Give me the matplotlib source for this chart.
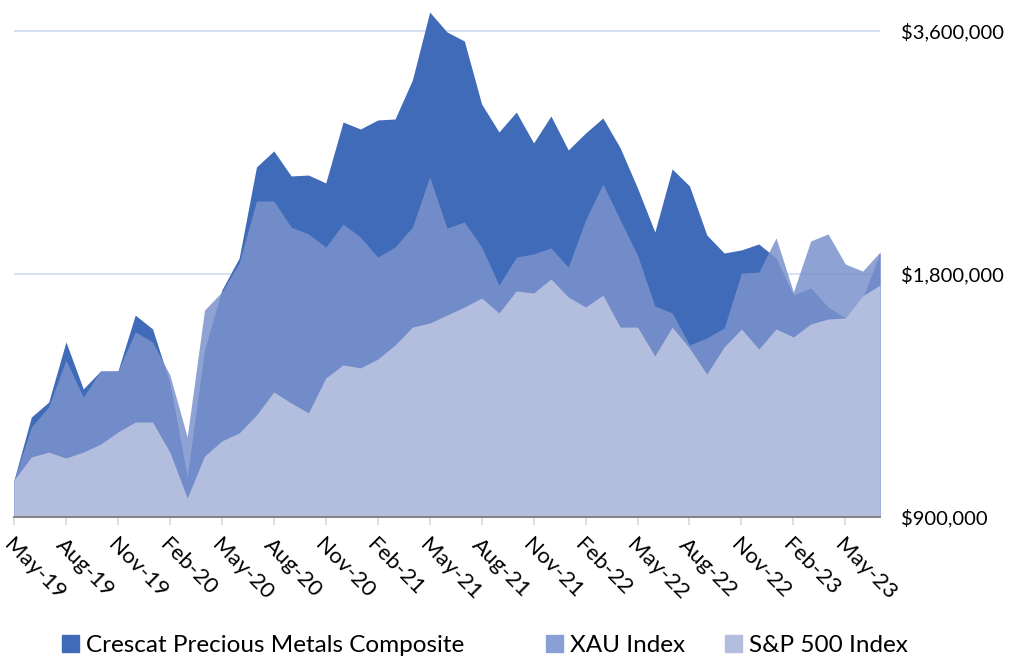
import numpy as np
import pandas as pd
import matplotlib
matplotlib.use("Agg")
import matplotlib.pyplot as plt
from matplotlib.patches import Patch
from matplotlib.ticker import FixedLocator, FuncFormatter

# monthly values, May-19 .. Jul-23 (growth of $1,000,000)
months = pd.date_range("2019-05-01", "2023-07-01", freq="MS")

crescat = [1000, 1197, 1249, 1483, 1297, 1365, 1365, 1601, 1539, 1319,
           1009, 1449, 1720, 1884, 2443, 2557, 2381, 2387, 2334, 2777,
           2722, 2793, 2801, 3130, 3800, 3590, 3499, 2923, 2699, 2857,
           2616, 2825, 2564, 2691, 2809, 2579, 2300, 2029, 2429, 2314,
           2012, 1911, 1928, 1961, 1884, 1695, 1730, 1638, 1588, 1681,
           1911]
xau = [1000, 1163, 1232, 1408, 1267, 1365, 1365, 1526, 1483, 1349,
       1131, 1624, 1710, 1858, 2217, 2217, 2058, 2018, 1944, 2076,
       2000, 1889, 1944, 2058, 2374, 2052, 2088, 1944, 1744, 1889,
       1906, 1939, 1836, 2100, 2327, 2100, 1900, 1643, 1611, 1470,
       1500, 1543, 1805, 1810, 1995, 1710, 1978, 2018, 1852, 1815,
       1917]
spx = [1000, 1068, 1083, 1065, 1083, 1108, 1147, 1180, 1180, 1083,
       950, 1071, 1118, 1144, 1204, 1286, 1246, 1211, 1338, 1389,
       1377, 1412, 1470, 1547, 1565, 1601, 1638, 1681, 1611, 1715,
       1705, 1775, 1686, 1638, 1695, 1547, 1547, 1425, 1547, 1457,
       1353, 1462, 1539, 1453, 1539, 1504, 1561, 1583, 1588, 1691,
       1744]

series_names = ["Crescat Precious Metals Composite", "XAU Index", "S&P 500 Index"]
y_ticks = [900000, 1800000, 3600000]

plt.rcParams['font.family'] = ['Lato', 'DejaVu Sans']

fig = plt.figure(figsize=(10.13, 6.57), dpi=100)
ax = fig.add_axes([14 / 1013, 140 / 657, 866 / 1013, 517 / 657])

x = np.arange(len(months))
c1 = np.array(crescat) * 1000
c2 = np.array(xau) * 1000
c3 = np.array(spx) * 1000
base = 900000

ax.fill_between(x, base, c1, color="#3F6BB8", lw=0, zorder=2)
ax.fill_between(x, base, c2, color="#7A92CC", alpha=0.85, lw=0, zorder=3)
ax.fill_between(x, base, c3, color="#B3BEDE", lw=0, zorder=4)

ax.set_yscale("log", base=2)
ax.set_ylim(base, base * 2 ** (517 / 243))
ax.set_xlim(0, len(months) - 1)

for v in y_ticks[1:]:
    ax.axhline(v, color="#D6E1F3", lw=1.4, zorder=1)

ax.yaxis.tick_right()
ax.yaxis.set_major_locator(FixedLocator(y_ticks))
ax.yaxis.set_minor_locator(FixedLocator([]))
ax.yaxis.set_major_formatter(FuncFormatter(lambda v, p: "${:,.0f}".format(v)))
ax.tick_params(axis="y", length=0, pad=15, labelsize=14.5, colors="black")

tick_pos = x[::3]
ax.set_xticks(tick_pos)
ax.set_xticklabels([m.strftime("%b-%y") for m in months[::3]])
ax.tick_params(axis="x", length=6, width=1.2, color="#D9D9D9", pad=7,
               labelsize=16)
for lab in ax.get_xticklabels():
    lab.set_rotation(-45)
    lab.set_ha("left")
    lab.set_va("top")
    lab.set_rotation_mode("anchor")

for s in ["top", "left", "right"]:
    ax.spines[s].set_visible(False)
ax.spines["bottom"].set_color("#7F7F7F")
ax.spines["bottom"].set_linewidth(1.3)
ax.spines["bottom"].set_zorder(5)

# legend, one entry per block like the original
leg_cols = ["#3F6BB8", "#8A9FD4", "#B3BEDE"]
leg_x = [62 / 1013, 546 / 1013, 725 / 1013]
for name, col, lx in zip(series_names, leg_cols, leg_x):
    fig.legend(handles=[Patch(color=col, label=name)], loc="center left",
               bbox_to_anchor=(lx, 0.017), frameon=False, fontsize=17.5,
               handlelength=0.7, handleheight=0.7, handletextpad=0.3,
               borderaxespad=0, borderpad=0)

fig.savefig("out.png", dpi=100)
